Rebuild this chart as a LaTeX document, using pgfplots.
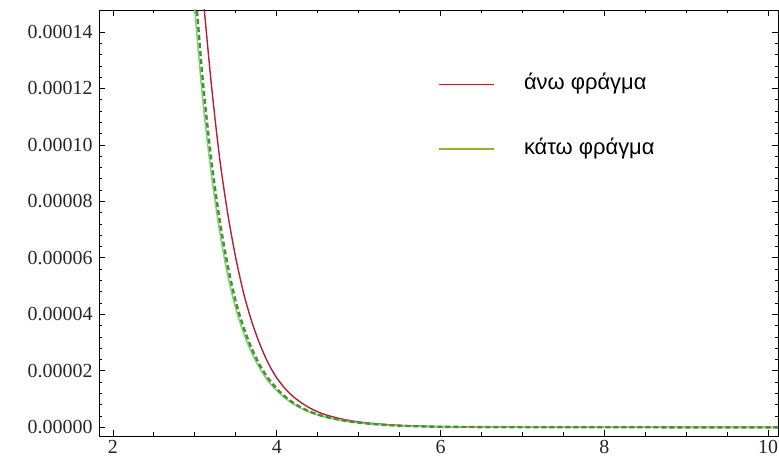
\documentclass[border=0pt]{standalone}
\usepackage{fontspec}
\setmainfont{Liberation Serif}
\newfontfamily\legfont{Liberation Sans}
\usepackage{pgfplots}
\pgfplotsset{compat=1.18}

\definecolor{upper}{RGB}{178,34,52}
\definecolor{lowerleg}{RGB}{150,180,30}
\definecolor{lowerlight}{RGB}{120,215,110}
\definecolor{lowerdark}{RGB}{78,140,58}

\begin{document}
\begin{tikzpicture}
\useasboundingbox (0,0) rectangle (779bp,464bp);
\begin{axis}[
  at={(99bp,28bp)}, anchor=south west,
  scale only axis, width=679bp, height=426bp,
  xmin=1.83, xmax=10.12,
  ymin=-3.08e-6, ymax=1.478e-4,
  xtick={2,4,6,8,10},
  ytick={0,0.00002,0.00004,0.00006,0.00008,0.0001,0.00012,0.00014},
  minor x tick num=3, minor y tick num=4,
  tick align=inside,
  major tick length=6bp, minor tick length=3.5bp,
  axis line style={black, line width=0.8bp},
  every tick/.style={black, line width=0.8bp},
  scaled y ticks=false,
  yticklabel style={/pgf/number format/fixed, /pgf/number format/fixed zerofill,
    /pgf/number format/precision=5, xshift=-3bp},
  /pgf/number format/assume math mode=true,
  tick label style={font=\fontsize{20}{22}\selectfont, text=black!85},
  xticklabel style={yshift=-1bp},
  legend style={draw=none, fill=none, at={(rel axis cs:0.499,0.847)}, anchor=north west,
    inner sep=0pt, font=\legfont\fontsize{22}{24}\selectfont, row sep=47bp,
    nodes={inner sep=0pt, text height=14bp, text depth=4bp}},
  legend cell align=left,
  /tikz/every odd column/.append style={column sep=29bp},
  legend image code/.code={\draw[#1] (0bp,0bp) -- (55bp,0bp);},
]
% upper bound
\addplot[upper, line width=1.4bp, smooth] coordinates {
(3.05,1.72e-4) (3.10,1.53e-4) (3.20,1.22e-4) (3.30,9.6e-5) (3.40,7.6e-5)
(3.50,6.0e-5) (3.60,4.7e-5) (3.70,3.7e-5) (3.80,2.9e-5) (3.90,2.25e-5)
(4.00,1.75e-5) (4.10,1.38e-5) (4.20,1.09e-5) (4.30,8.7e-6) (4.40,6.9e-6)
(4.50,5.5e-6) (4.60,4.4e-6) (4.80,2.9e-6) (5.00,1.9e-6) (5.25,1.15e-6)
(5.50,6.8e-7) (5.75,4.0e-7) (6.00,2.4e-7) (6.50,9e-8) (7.00,3.2e-8)
(8.00,5e-9) (10.00,0) (10.2,0)};
\addlegendentry{άνω φράγμα}
% lower bound
\addplot[lowerlight, line width=1.5bp, smooth, forget plot] coordinates {
(2.95,1.70e-4) (3.00,1.48e-4) (3.10,1.15e-4) (3.20,9.0e-5) (3.30,7.0e-5)
(3.40,5.4e-5) (3.50,4.2e-5) (3.60,3.3e-5) (3.70,2.6e-5) (3.80,2.05e-5)
(3.90,1.62e-5) (4.00,1.30e-5) (4.10,1.04e-5) (4.20,8.3e-6) (4.30,6.7e-6)
(4.40,5.4e-6) (4.50,4.4e-6) (4.60,3.6e-6) (4.80,2.4e-6) (5.00,1.6e-6)
(5.25,9.5e-7) (5.50,5.5e-7) (5.75,3.2e-7) (6.00,1.9e-7) (6.50,7e-8)
(7.00,2.5e-8) (8.00,4e-9) (9.00,1e-9) (10.00,0) (10.2,0)};
% exact value, dashed
\addplot[lowerdark, line width=2.4bp, dash pattern=on 5bp off 3bp, smooth, forget plot] coordinates {
(2.97,1.70e-4) (3.02,1.50e-4) (3.10,1.22e-4) (3.20,9.5e-5) (3.30,7.4e-5)
(3.40,5.75e-5) (3.50,4.45e-5) (3.60,3.5e-5) (3.70,2.75e-5) (3.80,2.17e-5)
(3.90,1.72e-5) (4.00,1.37e-5) (4.10,1.09e-5) (4.20,8.7e-6) (4.30,7.0e-6)
(4.40,5.6e-6) (4.50,4.55e-6) (4.60,3.7e-6) (4.80,2.5e-6) (5.00,1.65e-6)
(5.25,1.0e-6) (5.50,5.8e-7) (5.75,3.4e-7) (6.00,2.0e-7) (6.50,7.5e-8)
(7.00,2.7e-8) (8.00,4e-9) (10.00,0) (10.2,0)};
\addlegendimage{color=lowerleg, line width=2bp}
\addlegendentry{κάτω φράγμα}
\end{axis}
\end{tikzpicture}
\end{document}
